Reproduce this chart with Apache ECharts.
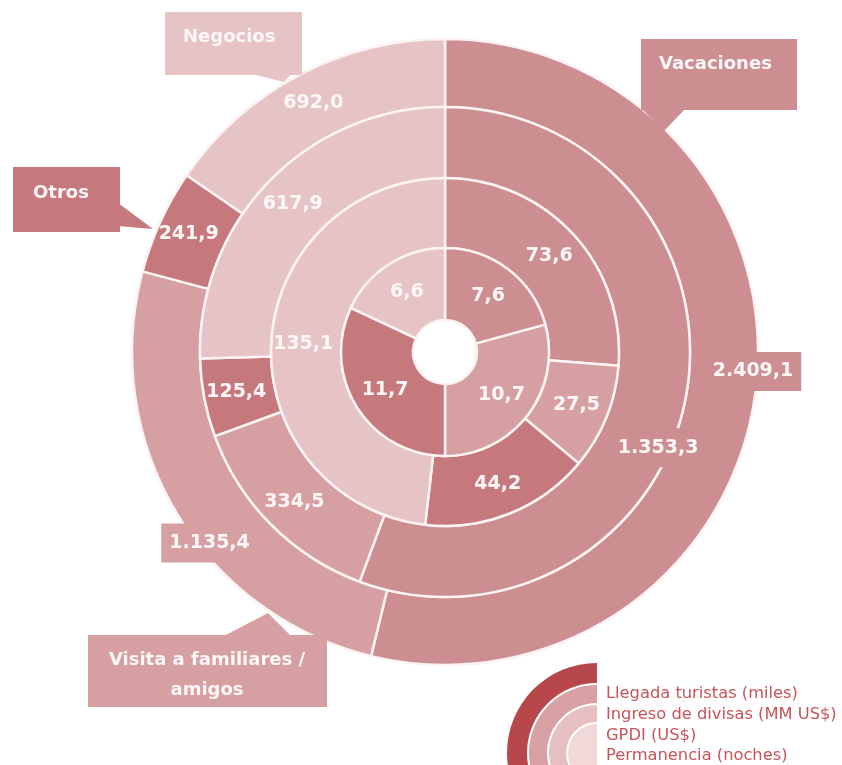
<!DOCTYPE html>
<html>
<head>
<meta charset="utf-8">
<script src="https://cdn.jsdelivr.net/npm/echarts@6/dist/echarts.min.js"></script>
<style>
html,body{margin:0;padding:0;background:#fff;}
#chart{width:842px;height:765px;}
</style>
</head>
<body>
<div id="chart"></div>
<script>
// ---- data ----
const categories = ['Vacaciones', 'Visita a familiares / amigos', 'Otros', 'Negocios'];
const llegadaTuristas = [2409.1, 1135.4, 241.9, 692.0];      // miles
const ingresoDivisas = [1353.3, 334.5, 125.4, 617.9];        // MM US$
const gpdi = [73.6, 27.5, 44.2, 135.1];                       // US$
const permanencia = [7.6, 10.7, 11.7, 6.6];                   // noches
const ringNames = ['Llegada turistas (miles)', 'Ingreso de divisas (MM US$)', 'GPDI (US$)', 'Permanencia (noches)'];

// ---- styles ----
const catColors = ['#cc8e91', '#d6a0a3', '#c6797d', '#e6c4c6'];
const legendColors = ['#b8474c', '#d8a0a2', '#e6c0c1', '#f2d9d9'];
const sepColor = '#fdf3f3';
const txtColor = '#fff7f7';
const FONT = 'DejaVu Sans';
const CENTER = [445, 352];
const RADII = [[245, 313], [174, 245], [104, 174], [32, 104]];
// label nudges (px) for a few labels that sit on ring edges
const labelShift = {
  'Llegada turistas (miles)|Vacaciones': [28, -14],
  'Llegada turistas (miles)|Visita a familiares / amigos': [7, 47],
  'Ingreso de divisas (MM US$)|Vacaciones': [4, 58]
};
const boxed = new Set(Object.keys(labelShift));

function fmt(v) {
  const s = v.toFixed(1);
  let [i, d] = s.split('.');
  i = i.replace(/\B(?=(\d{3})+(?!\d))/g, '.');
  return i + ',' + d;
}

const ringValues = [llegadaTuristas, ingresoDivisas, gpdi, permanencia];

const series = ringValues.map((vals, k) => ({
  type: 'pie',
  name: ringNames[k],
  center: CENTER,
  radius: RADII[k],
  startAngle: 90,
  clockwise: true,
  avoidLabelOverlap: false,
  silent: true,
  itemStyle: { borderColor: sepColor, borderWidth: 2.5 },
  labelLine: { show: false },
  label: {
    show: true,
    position: 'inside',
    color: txtColor,
    fontFamily: FONT,
    fontWeight: 'bold',
    fontSize: 19,
    formatter: p => fmt(p.value)
  },
  labelLayout: function (params) {
    const key = ringNames[k] + '|' + categories[params.dataIndex];
    const s = labelShift[key];
    return s ? { dx: s[0], dy: s[1] } : {};
  },
  data: vals.map((v, i) => {
    const key = ringNames[k] + '|' + categories[i];
    const d = { name: categories[i], value: v, itemStyle: { color: catColors[i] } };
    if (boxed.has(key)) {
      d.label = { backgroundColor: catColors[i], padding: [11, 8, 9, 8] };
    }
    return d;
  })
}));

// ---- callout boxes (annotation) ----
const calloutBoxes = [
  { rect: [641, 39, 156, 71], ptr: [[641, 108], [686, 108], [664, 131]], textPos: [659, 64], align: 'left' },
  { rect: [88, 635, 239, 72], ptr: [[222, 637], [268, 613], [292, 637]], textPos: [207, 675], align: 'center' },
  { rect: [13, 167, 107, 65], ptr: [[118, 203], [153, 229], [118, 226]], textPos: [33, 193], align: 'left' },
  { rect: [165, 12, 137, 63], ptr: [[248, 73], [292, 73], [284, 82]], textPos: [183, 37], align: 'left' }
];
const graphics = [];
categories.forEach((c, i) => {
  const b = calloutBoxes[i];
  graphics.push({
    type: 'rect', z: 10,
    shape: { x: b.rect[0], y: b.rect[1], width: b.rect[2], height: b.rect[3] },
    style: { fill: catColors[i] }
  });
  graphics.push({
    type: 'polygon', z: 10,
    shape: { points: b.ptr },
    style: { fill: catColors[i] }
  });
  graphics.push({
    type: 'text', z: 11,
    x: b.textPos[0], y: b.textPos[1],
    style: {
      text: c.replace('/ ', '/\n'),
      fill: txtColor,
      font: 'bold 18px "' + FONT + '"',
      align: b.align,
      verticalAlign: 'middle',
      lineHeight: 30
    }
  });
});

// ---- legend (nested half-rings icon + text) ----
const LC = [597, 753];
const legendR = [[70, 90], [50, 68], [31, 48], [0, 29]];
legendR.forEach((r, i) => {
  graphics.push({
    type: 'sector', z: 10,
    shape: { cx: LC[0], cy: LC[1], r0: r[0], r: r[1], startAngle: Math.PI / 2, endAngle: Math.PI * 1.5, clockwise: true },
    style: { fill: legendColors[i] }
  });
});
ringNames.forEach((n, i) => {
  graphics.push({
    type: 'text', z: 11,
    x: 606, y: 694 + i * 20.7,
    style: { text: n, fill: '#c6545a', font: '16.3px "' + FONT + '"', verticalAlign: 'middle' }
  });
});

const chart = echarts.init(document.getElementById('chart'), null, { renderer: 'canvas' });
chart.setOption({
  animation: false,
  backgroundColor: '#ffffff',
  series: series,
  graphic: graphics
});
</script>
</body>
</html>
